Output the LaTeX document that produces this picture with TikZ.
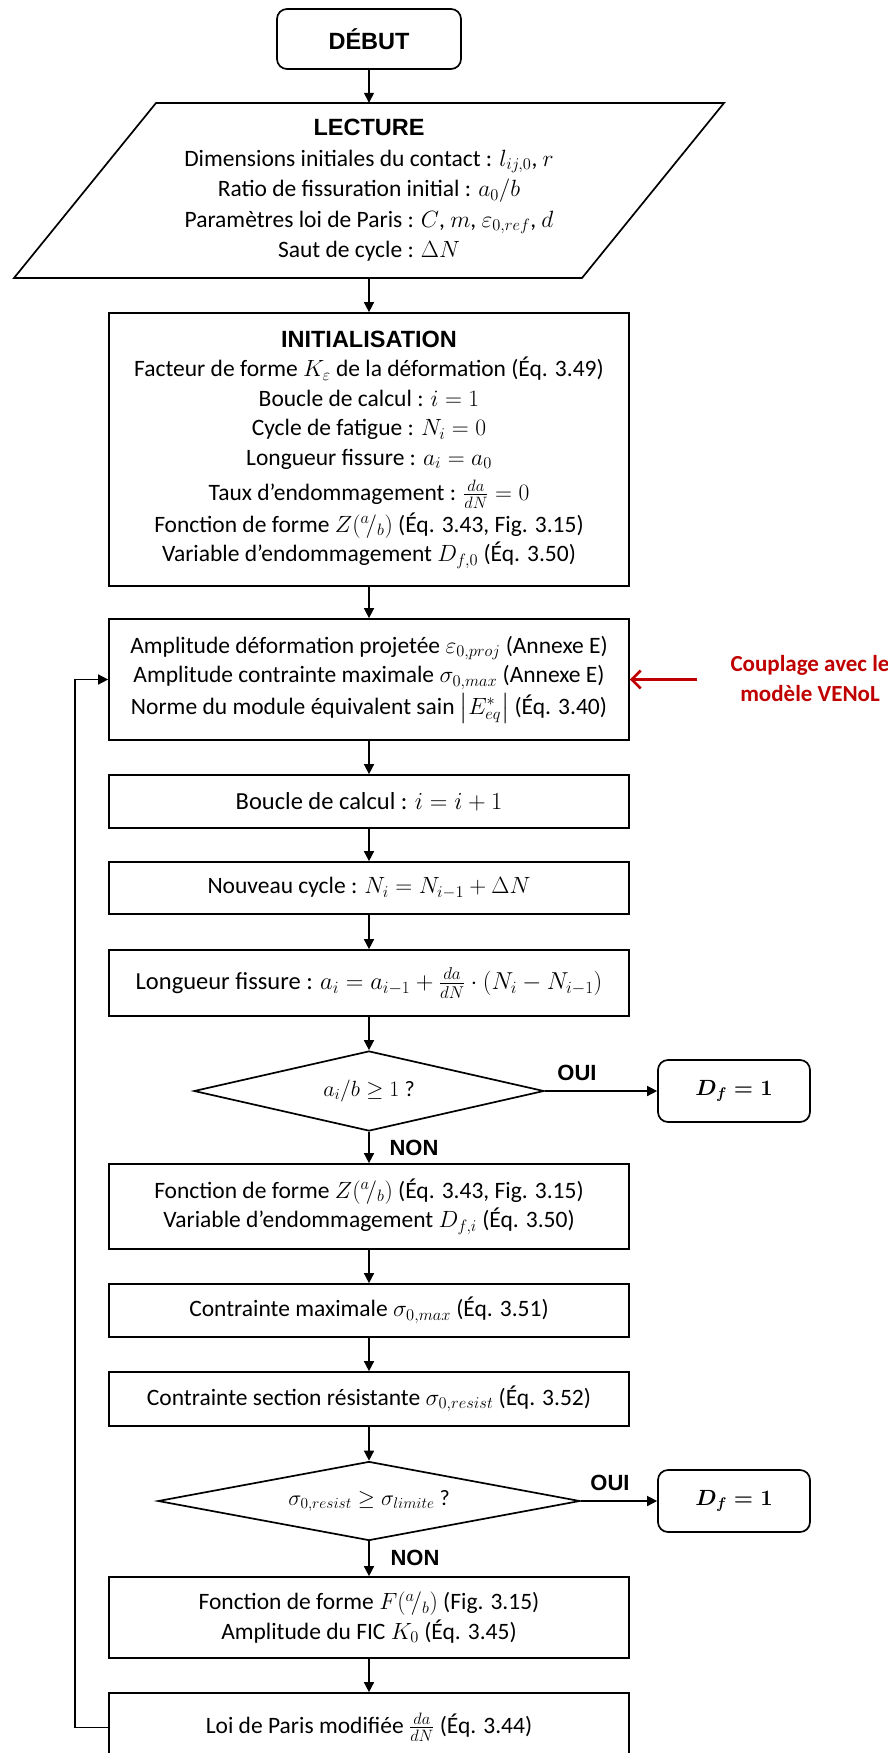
\RequirePackage{fix-cm}
\documentclass[tikz,border=0pt]{standalone}
\usepackage{amsmath}
\usepackage[no-math]{fontspec}
\setmainfont{Carlito}
\newfontfamily\titlefont{Liberation Sans}
\usetikzlibrary{arrows.meta,shapes.geometric}
\definecolor{darkred}{HTML}{C00000}
\newcommand{\bodysize}{\fontsize{23.5}{29.5}\selectfont}
\newcommand{\ttl}[1]{{\titlefont\bfseries\fontsize{23.5}{29.5}\selectfont #1}}
\begin{document}
\begin{tikzpicture}[x=1pt,y=-1pt,
  boxline/.style={draw=black,line width=1.7pt},
  procbox/.style={boxline,rectangle,minimum width=520pt,inner sep=0pt,align=center,font=\bodysize},
  startbox/.style={boxline,rectangle,rounded corners=10pt,inner sep=0pt,align=center},
  decision/.style={boxline,diamond,inner sep=0pt,align=center,font=\fontsize{22}{26}\selectfont},
  textonly/.style={inner sep=0pt,align=center,font=\fontsize{23.5}{30.5}\selectfont},
  flow/.style={line width=1.5pt,-{Triangle[length=10pt,width=10pt]}},
  yesno/.style={inner sep=0pt,font=\titlefont\bfseries\fontsize{22}{26}\selectfont},
  endbox/.style={startbox,minimum width=152pt,minimum height=62pt,font=\fontsize{22}{26}\selectfont}
]
\useasboundingbox (0,0) rectangle (888,1753);

% start
\node[startbox,minimum width=184pt,minimum height=60pt,font=\titlefont\bfseries\fontsize{23.5}{28}\selectfont] (debut) at (369,39) {DÉBUT};

% lecture (parallelogram)
\draw[boxline] (156,103) -- (724,103) -- (582,278) -- (14,278) -- cycle;
\node[textonly,minimum width=400pt,minimum height=175pt] (lecture) at (369,190.5) {\ttl{LECTURE}\\
Dimensions initiales du contact : $l_{ij,0}$, $r$\\
Ratio de fissuration initial : $a_0/b$\\
Paramètres loi de Paris : $C$, $m$, $\varepsilon_{0,ref}$, $d$\\
Saut de cycle : $\Delta N$};

% initialisation
\node[procbox,minimum height=273pt] (init) at (369,449.5) {\ttl{INITIALISATION}\\
Facteur de forme $K_\varepsilon$ de la déformation (Éq. 3.49)\\
Boucle de calcul : $i = 1$\\
Cycle de fatigue : $N_i = 0$\\
Longueur fissure : $a_i = a_0$\\[6pt]
Taux d’endommagement : $\frac{da}{dN} = 0$\\[2pt]
Fonction de forme $Z({}^{a}\!/_{b})$ (Éq. 3.43, Fig. 3.15)\\
Variable d’endommagement $D_{f,0}$ (Éq. 3.50)};

% amplitude
\node[procbox,minimum height=121pt] (ampl) at (369,679.5) {Amplitude déformation projetée $\varepsilon_{0,proj}$ (Annexe E)\\
Amplitude contrainte maximale $\sigma_{0,max}$ (Annexe E)\\[2pt]
Norme du module équivalent sain $\left|E^{*}_{eq}\right|$ (Éq. 3.40)};

\node[procbox,minimum height=53pt,font=\fontsize{24.5}{29.5}\selectfont] (boucle) at (369,801.5) {Boucle de calcul : $i = i + 1$};
\node[procbox,minimum height=52pt] (nouveau) at (369,888) {Nouveau cycle : $N_i = N_{i-1} + \Delta N$};
\node[procbox,minimum height=66pt,font=\fontsize{24.5}{29.5}\selectfont] (longueur) at (369,983) {Longueur fissure : $a_i = a_{i-1} + \frac{da}{dN}\cdot(N_i - N_{i-1})$};

\node[decision,minimum width=350pt,minimum height=80pt,aspect=4.4] (d1) at (369,1091) {$a_i/b \geq 1$ ?};
\node[endbox] (df1) at (734,1091) {$\boldsymbol{D_f = 1}$};

\node[procbox,minimum height=85pt] (fonctZ) at (369,1206.5) {Fonction de forme $Z({}^{a}\!/_{b})$ (Éq. 3.43, Fig. 3.15)\\
Variable d’endommagement $D_{f,i}$ (Éq. 3.50)};
\node[procbox,minimum height=53pt] (cmax) at (369,1310.5) {Contrainte maximale $\sigma_{0,max}$ (Éq. 3.51)};
\node[procbox,minimum height=54pt] (cres) at (369,1399) {Contrainte section résistante $\sigma_{0,resist}$ (Éq. 3.52)};

\node[decision,minimum width=422pt,minimum height=79pt,aspect=5.3] (d2) at (369,1501) {$\sigma_{0,resist} \geq \sigma_{limite}$ ?};
\node[endbox] (df2) at (734,1501) {$\boldsymbol{D_f = 1}$};

\node[procbox,minimum height=81pt] (fonctF) at (369,1617.5) {Fonction de forme $F({}^{a}\!/_{b})$ (Fig. 3.15)\\
Amplitude du FIC $K_0$ (Éq. 3.45)};
\node[procbox,minimum height=69pt] (paris) at (369,1727.5) {Loi de Paris modifiée $\frac{da}{dN}$ (Éq. 3.44)};

% labels
\node[yesno] (oui1) at (577,1073) {OUI};
\node[yesno] (non1) at (414,1148) {NON};
\node[yesno] (oui2) at (610,1483) {OUI};
\node[yesno] (non2) at (415,1558) {NON};

% coupling
\node[inner sep=0pt,align=center,text=darkred,font=\bfseries\fontsize{23}{30}\selectfont] (coupl) at (810,679) {Couplage avec le\\modèle VENoL};
\coordinate (redstart) at (697,679.5);
\draw[line width=2.6pt,draw=darkred,-{Straight Barb[length=9pt,width=18pt]}] (redstart) -- (ampl.east);

% connectors
\draw[flow] (debut) -- (lecture);
\draw[flow] (lecture) -- (init);
\draw[flow] (init) -- (ampl);
\draw[flow] (ampl) -- (boucle);
\draw[flow] (boucle) -- (nouveau);
\draw[flow] (nouveau) -- (longueur);
\draw[flow] (longueur) -- (d1);
\draw[flow] (d1) -- (df1);
\draw[flow] (d1) -- (fonctZ);
\draw[flow] (fonctZ) -- (cmax);
\draw[flow] (cmax) -- (cres);
\draw[flow] (cres) -- (d2);
\draw[flow] (d2) -- (df2);
\draw[flow] (d2) -- (fonctF);
\draw[flow] (fonctF) -- (paris);
\coordinate (loopbot) at (75,1727.5);
\coordinate (looptop) at (75,679.5);
\draw[flow] (paris.west) -- (loopbot) -- (looptop) -- (ampl.west);
\end{tikzpicture}
\end{document}
